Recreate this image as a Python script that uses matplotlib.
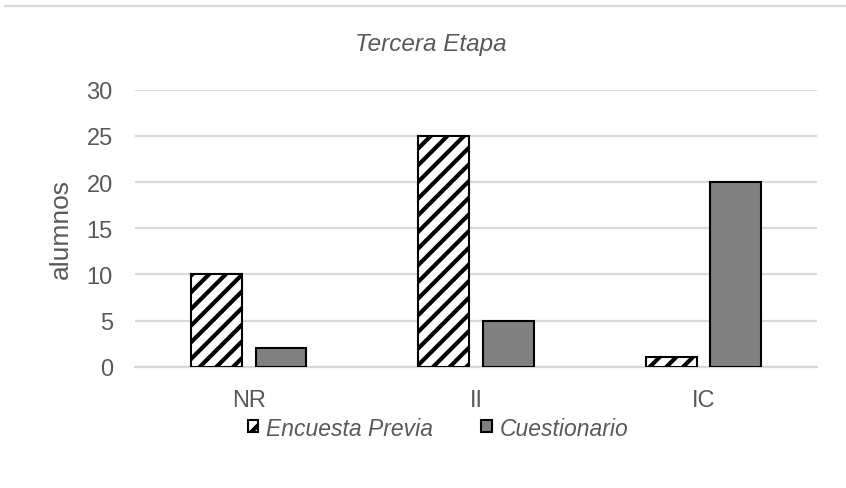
import numpy as np
import matplotlib
matplotlib.use("Agg")
import matplotlib.pyplot as plt
from matplotlib.patches import Rectangle
from matplotlib.lines import Line2D

# datos de la tercera etapa
categorias = ["NR", "II", "IC"]
encuesta_previa = [10, 25, 1]
cuestionario = [2, 5, 20]
y_ticks = [0, 5, 10, 15, 20, 25, 30]

gris_texto = "#595959"
gris_linea = "#d9d9d9"

plt.rcParams["font.family"] = ["Liberation Sans", "DejaVu Sans"]
plt.rcParams["hatch.linewidth"] = 3.0
plt.rcParams["hatch.color"] = "black"

fig = plt.figure(figsize=(8.46, 4.89), dpi=100)
ax = fig.add_axes([0.1596, 0.2481, 0.9657 - 0.1596, 0.8145 - 0.2481])

x = np.arange(len(categorias))
ancho = 0.224
desp = 0.142

ax.bar(x - desp, encuesta_previa, ancho, color="white", edgecolor="black",
       hatch="//", linewidth=1.5, zorder=3)
ax.bar(x + desp, cuestionario, ancho, color="#808080", edgecolor="black",
       linewidth=1.5, zorder=3)

ax.set_xlim(-0.5, len(categorias) - 0.5)
ax.set_ylim(0, 30)
ax.set_yticks(y_ticks)
ax.set_xticks(x)
ax.set_xticklabels(categorias)
ax.yaxis.grid(True, color=gris_linea, linewidth=1.6, zorder=0)
ax.set_axisbelow(True)

for s in ["top", "right", "left"]:
    ax.spines[s].set_visible(False)
ax.spines["bottom"].set_color(gris_linea)
ax.spines["bottom"].set_linewidth(1.6)

ax.tick_params(axis="both", length=0, labelsize=17, labelcolor=gris_texto)
ax.tick_params(axis="y", pad=16)
ax.tick_params(axis="x", pad=16)

ax.set_ylabel("alumnos", fontsize=19, color=gris_texto, labelpad=10)

# título centrado en la figura
fig.text(431 / 846, 1 - 44 / 489, "Tercera Etapa", fontsize=17.5, style="italic",
         color=gris_texto, ha="center", va="center")

# leyenda
manijas = [
    Rectangle((0, 0), 1, 1, facecolor="white", edgecolor="black", hatch="//", linewidth=1.5),
    Rectangle((0, 0), 1, 1, facecolor="#808080", edgecolor="black", linewidth=1.5),
]
fig.legend(manijas, ["Encuesta Previa", "Cuestionario"], loc="center",
           bbox_to_anchor=(0.518, 1 - 429 / 489), ncol=2, frameon=False,
           prop={"style": "italic", "size": 16.5}, labelcolor=gris_texto,
           handlelength=0.45, handleheight=0.45, handletextpad=0.35, columnspacing=2.1)

# borde superior del gráfico
fig.add_artist(Line2D([5 / 846, 1], [1 - 7 / 489, 1 - 7 / 489], color=gris_linea,
                      linewidth=1.6, transform=fig.transFigure))

fig.savefig("out.png", dpi=100, facecolor="white")
